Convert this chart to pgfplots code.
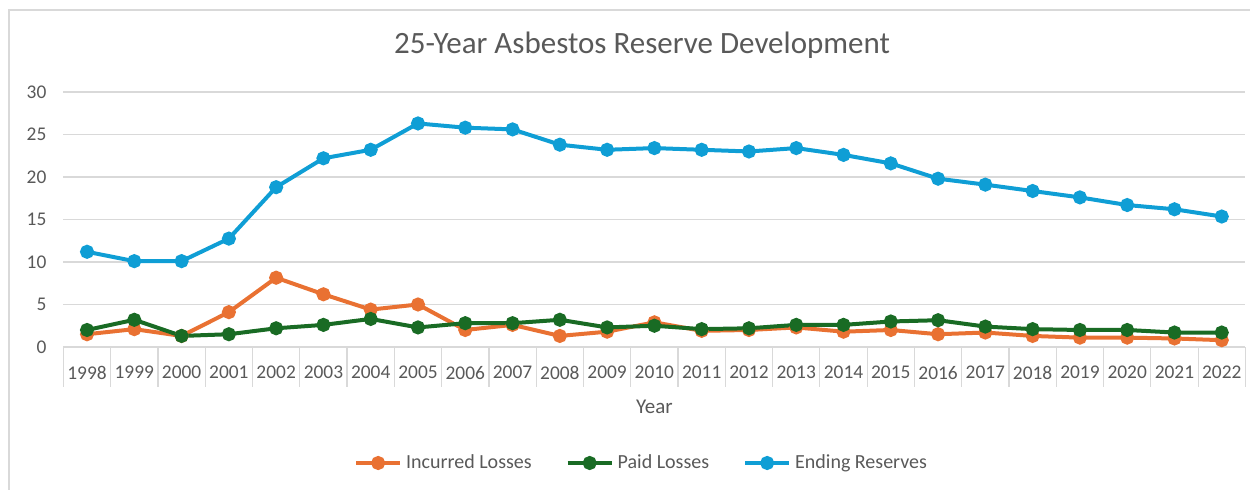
\documentclass[border=0pt]{standalone}
\usepackage{pgfplots}
\pgfplotsset{compat=1.18}
\usepackage{fontspec}
\setmainfont{Carlito}
\definecolor{cOrange}{HTML}{E97132}
\definecolor{cGreen}{HTML}{196B24}
\definecolor{cBlue}{HTML}{0F9ED5}
\definecolor{cText}{HTML}{595959}
\definecolor{cGrid}{HTML}{D9D9D9}
\begin{document}
\begin{tikzpicture}[x=1pt,y=1pt]
\useasboundingbox (0,0) rectangle (625,245);
\draw[cGrid,line width=0.8pt] (4.5,0) -- (4.5,240) -- (625,240);
\node[text=cText,font=\fontsize{15.5}{18}\selectfont] at (321,222.5) {25-Year Asbestos Reserve Development};
\begin{axis}[
  at={(31.7pt,71.5pt)}, anchor=south west,
  scale only axis, width=591pt, height=127.5pt,
  xmin=-0.5, xmax=24.5, ymin=0, ymax=30,
  xtick={0,...,24},
  xticklabels={1998,1999,2000,2001,2002,2003,2004,2005,2006,2007,2008,2009,2010,2011,2012,2013,2014,2015,2016,2017,2018,2019,2020,2021,2022},
  ytick={0,5,...,30},
  axis line style={draw=none},
  xtick pos=bottom, ytick pos=left,
  tick align=outside,
  major tick length=0pt,
  x tick style={draw=cGrid, line width=0.6pt},
  y tick style={draw=none},
  ymajorgrids, major grid style={cGrid,line width=0.8pt},
  extra x ticks={-0.5,0.5,...,24.5},
  extra x tick labels={},
  extra x tick style={grid=none, major tick length=20pt, xtick pos=bottom},
  ticklabel style={text=cText,font=\fontsize{9.7}{11}\selectfont},
  xticklabel style={yshift=-6pt},
  yticklabel style={xshift=-5pt},
  /pgf/number format/assume math mode=true,
  xlabel={Year},
  xlabel style={at={(axis description cs:0.5,0)}, anchor=center, yshift=-30pt, text=cText, font=\fontsize{10.5}{12}\selectfont},
  legend columns=3,
  legend style={at={(axis description cs:0.49,-0.455)}, anchor=center, draw=none, fill=none,
     font=\fontsize{10}{12}\selectfont, text=cText,
     /tikz/every even column/.append style={column sep=15pt}},
  legend cell align=left,
  legend image code/.code={\draw[mark repeat=2,mark phase=2] plot coordinates {(0pt,0pt) (11pt,0pt) (22pt,0pt)};},
  every axis plot/.append style={line width=2pt, mark=*, mark size=2.5pt},
]
\draw[cGrid,line width=0.8pt] (axis cs:-0.5,0) -- (axis cs:24.5,0);
\addplot[color=cOrange] coordinates {
(0,1.5)(1,2.1)(2,1.3)(3,4.1)(4,8.15)(5,6.2)(6,4.4)(7,5.0)(8,2.0)(9,2.6)(10,1.3)(11,1.8)(12,2.9)(13,1.9)(14,2.0)(15,2.3)(16,1.8)(17,2.0)(18,1.5)(19,1.7)(20,1.3)(21,1.1)(22,1.1)(23,1.0)(24,0.8)};
\addlegendentry{Incurred Losses}
\addplot[color=cGreen] coordinates {
(0,2.0)(1,3.2)(2,1.3)(3,1.5)(4,2.2)(5,2.6)(6,3.3)(7,2.3)(8,2.8)(9,2.8)(10,3.2)(11,2.3)(12,2.5)(13,2.1)(14,2.2)(15,2.6)(16,2.6)(17,3.0)(18,3.15)(19,2.4)(20,2.1)(21,2.0)(22,2.0)(23,1.7)(24,1.7)};
\addlegendentry{Paid Losses}
\addplot[color=cBlue] coordinates {
(0,11.2)(1,10.1)(2,10.1)(3,12.75)(4,18.8)(5,22.2)(6,23.2)(7,26.3)(8,25.8)(9,25.6)(10,23.8)(11,23.2)(12,23.4)(13,23.2)(14,23.0)(15,23.4)(16,22.6)(17,21.6)(18,19.8)(19,19.1)(20,18.35)(21,17.6)(22,16.7)(23,16.2)(24,15.35)};
\addlegendentry{Ending Reserves}
\end{axis}
\end{tikzpicture}
\end{document}
